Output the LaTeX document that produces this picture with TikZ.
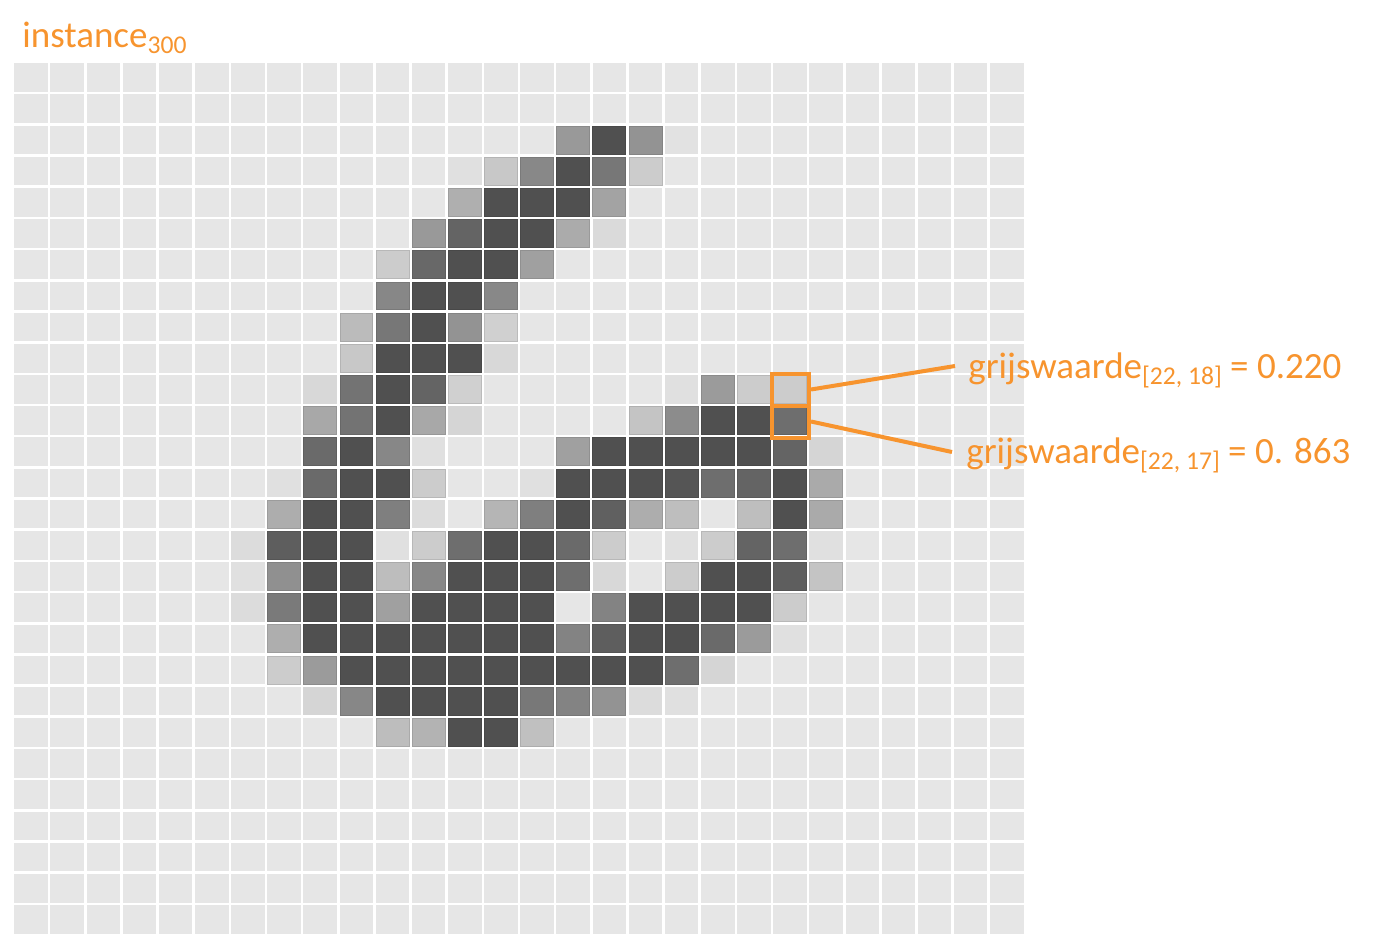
\documentclass[tikz,border=0pt]{standalone}
\usepackage{fontspec}
\setmainfont{Carlito}
\definecolor{orng}{RGB}{247,148,46}
\definecolor{bgcell}{RGB}{230,230,230}
\newcommand\subtxt[1]{\raisebox{-3.4pt}{\fontsize{12.8}{14}\selectfont #1}}
\tikzset{
  cellbg/.style={fill=bgcell},
  hbox/.style={draw=orng, line width=2pt, inner sep=0pt, minimum width=18.5pt, minimum height=16pt},
  lbl/.style={text=orng, inner sep=0pt, anchor=base west, font=\fontsize{18.5}{22}\selectfont},
  link/.style={draw=orng, line width=2pt}
}
\begin{document}
\begin{tikzpicture}[x=0.5pt,y=-0.5pt]
\useasboundingbox (0,0) rectangle (1377,938);
\fill[white] (0,0) rectangle (1377,938);
% background grid
\foreach \c in {0,...,27}{
  \foreach \r in {0,...,27}{
    \fill[cellbg] ({13+36.14*\c+1.3},{62+31.18*\r+1.3}) rectangle ++(33.54,28.58);
  }
}
% pixel values
\foreach \c/\r/\v in {
15/2/153, 16/2/80, 17/2/147, 18/2/226,
12/3/224, 13/3/200, 14/3/136, 15/3/80, 16/3/119, 17/3/204,
12/4/175, 13/4/80, 14/4/80, 15/4/80, 16/4/163,
11/5/153, 12/5/100, 13/5/80, 14/5/80, 15/5/171, 16/5/218,
10/6/204, 11/6/104, 12/6/80, 13/6/80, 14/6/160,
10/7/135, 11/7/80, 12/7/80, 13/7/136,
9/8/187, 10/8/119, 11/8/80, 12/8/147, 13/8/208,
9/9/200, 10/9/80, 11/9/80, 12/9/80, 13/9/216,
8/10/216, 9/10/115, 10/10/80, 11/10/100, 12/10/208, 18/10/224, 19/10/155, 20/10/204, 21/10/204,
8/11/168, 9/11/115, 10/11/80, 11/11/168, 12/11/213, 17/11/196, 18/11/140, 19/11/80, 20/11/80, 21/11/110,
8/12/106, 9/12/80, 10/12/135, 11/12/224, 15/12/160, 16/12/80, 17/12/80, 18/12/80, 19/12/80, 20/12/80, 21/12/100, 22/12/213,
7/13/224, 8/13/106, 9/13/80, 10/13/80, 11/13/204, 14/13/224, 15/13/80, 16/13/80, 17/13/80, 18/13/85, 19/13/110, 20/13/100, 21/13/80, 22/13/170,
7/14/173, 8/14/80, 9/14/80, 10/14/127, 11/14/220, 13/14/181, 14/14/127, 15/14/80, 16/14/96, 17/14/173, 18/14/190, 20/14/190, 21/14/80, 22/14/170,
6/15/220, 7/15/94, 8/15/80, 9/15/80, 10/15/224, 11/15/204, 12/15/110, 13/15/80, 14/15/80, 15/15/106, 16/15/204, 18/15/224, 19/15/204, 20/15/100, 21/15/110, 22/15/224,
6/16/224, 7/16/144, 8/16/80, 9/16/80, 10/16/189, 11/16/135, 12/16/80, 13/16/80, 14/16/80, 15/16/110, 16/16/216, 18/16/204, 19/16/80, 20/16/80, 21/16/94, 22/16/196,
6/17/220, 7/17/122, 8/17/80, 9/17/80, 10/17/160, 11/17/80, 12/17/80, 13/17/80, 14/17/80, 16/17/131, 17/17/80, 18/17/80, 19/17/80, 20/17/80, 21/17/204,
7/18/174, 8/18/80, 9/18/80, 10/18/80, 11/18/80, 12/18/80, 13/18/80, 14/18/80, 15/18/131, 16/18/94, 17/18/80, 18/18/80, 19/18/106, 20/18/155, 21/18/224,
7/19/204, 8/19/155, 9/19/80, 10/19/80, 11/19/80, 12/19/80, 13/19/80, 14/19/80, 15/19/80, 16/19/80, 17/19/80, 18/19/110, 19/19/213,
8/20/213, 9/20/135, 10/20/80, 11/20/80, 12/20/80, 13/20/80, 14/20/120, 15/20/131, 16/20/147, 17/20/220, 18/20/224,
10/21/189, 11/21/179, 12/21/80, 13/21/80, 14/21/192}{
  \definecolor{cc}{RGB}{\v,\v,\v}
  \ifnum\v<212
    \filldraw[fill=cc, draw=cc!90!black, line width=0.35pt] ({13+36.14*\c+1.6},{62+31.18*\r+1.6}) rectangle ++(32.94,27.98);
  \else
    \fill[cc] ({13+36.14*\c+1.3},{62+31.18*\r+1.3}) rectangle ++(33.54,28.58);
  \fi
}
% title
\node[lbl] (title) at (22,47) {instance\subtxt{300}};
% highlighted cells
\node[hbox] (h18) at (790.5,389.5) {};
\node[hbox] (h17) at (790.5,421.5) {};
% labels
\node[lbl] (t18) at (968,378) {grijswaarde\subtxt{[22, 18]} = 0.220};
\node[lbl] (t17) at (966,463) {grijswaarde\subtxt{[22, 17]} = 0. 863};
\coordinate (e18) at (955,366);
\coordinate (e17) at (952,452);
\draw[link] (h18.east) -- (e18);
\draw[link] (h17.east) -- (e17);
\end{tikzpicture}
\end{document}
